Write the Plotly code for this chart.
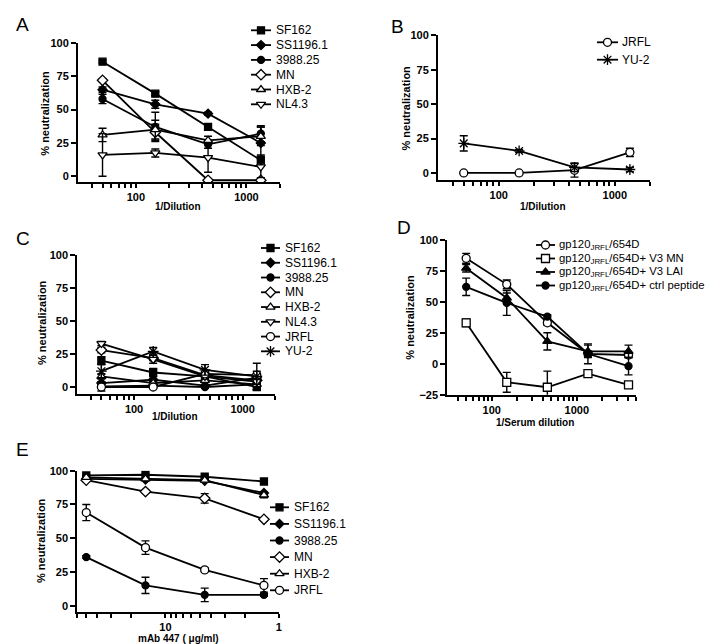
import math
import plotly.graph_objects as go

W, H = 715, 644
FONT = "Liberation Sans, Arial, sans-serif"

# ---------------- data ----------------
dil4 = [50, 150, 450, 1350]
dil5 = [50, 150, 450, 1350, 4050]
conc_447 = [50, 15, 4.5, 1.35]

# Panel A
a_names = ["SF162", "SS1196.1", "3988.25", "MN", "HXB-2", "NL4.3"]
a_sf162 = [86, 62, 37, 12];      a_sf162_err = [1, 1.5, 1.5, 4]
a_ss1196 = [65, 54, 47, 25];     a_ss1196_err = [2, 3, 1, 12]
a_3988 = [58, 37, 24, 32];       a_3988_err = [3.5, 11, 3, 6]
a_mn = [72, 33, -3, -3];         a_mn_err = [1, 6, 0.5, 0.5]
a_hxb2 = [31, 35, 27, 30];       a_hxb2_err = [5, 7, 3, 7]
a_nl43 = [16, 17.5, 14, 7];      a_nl43_err = [16, 3, 11, 8]

# Panel B
b_names = ["JRFL", "YU-2"]
b_jrfl = [0, 0, 2, 15];          b_jrfl_err = [0.5, 0.5, 5, 3]
b_yu2 = [21.5, 16, 4, 2.5];      b_yu2_err = [5.5, 1, 3, 1.5]

# Panel C
c_names = ["SF162", "SS1196.1", "3988.25", "MN", "HXB-2", "NL4.3", "JRFL", "YU-2"]
c_sf162 = [20, 11, 8, 0];        c_sf162_err = [3, 3, 2, 2]
c_ss1196 = [3, 5.5, 1, 7];       c_ss1196_err = [1, 1, 1, 1]
c_3988 = [0.5, 1, 0, 2];         c_3988_err = [1, 1, 1, 1]
c_mn = [28, 22, 9, 5];           c_mn_err = [2, 2, 2, 2]
c_hxb2 = [8, 3, 5, 2];           c_hxb2_err = [2, 1, 1, 1]
c_nl43 = [33, 21, 8, 4];         c_nl43_err = [1.5, 3, 2, 2]
c_jrfl = [0, 0, 10, 9];          c_jrfl_err = [3, 1, 2, 3]
c_yu2 = [12, 27, 13, 8];         c_yu2_err = [5, 3, 4, 10]

# Panel D
d_names = ["gp120<sub>JRFL</sub>/654D",
           "gp120<sub>JRFL</sub>/654D+ V3 MN",
           "gp120<sub>JRFL</sub>/654D+ V3 LAI",
           "gp120<sub>JRFL</sub>/654D+ ctrl peptide"]
d_654d = [85, 64, 33, 8, 7];         d_654d_err = [4, 3.5, 2, 2, 2]
d_v3mn = [33, -15, -19, -8, -17];    d_v3mn_err = [3, 8, 13, 1.5, 1.5]
d_v3lai = [77, 53, 18, 10, 10];      d_v3lai_err = [3, 4, 7, 5, 5]
d_ctrl = [62, 49, 38, 8, -2];        d_ctrl_err = [7, 10, 1.5, 8, 7]

# Panel E
e_names = ["SF162", "SS1196.1", "3988.25", "MN", "HXB-2", "JRFL"]
e_sf162 = [96.5, 97, 95.5, 92];      e_sf162_err = [0.5, 0.5, 0.5, 0.5]
e_ss1196 = [94, 93.5, 92.5, 83.5];   e_ss1196_err = [0.5, 0.5, 0.5, 1]
e_3988 = [36, 15, 8, 8];             e_3988_err = [1, 6, 5, 1]
e_mn = [93, 84.5, 79.5, 64];         e_mn_err = [1, 1, 3.5, 1]
e_hxb2 = [95, 94, 93, 82];           e_hxb2_err = [1, 1, 1, 2]
e_jrfl = [69, 43, 26.5, 15];         e_jrfl_err = [6, 5, 1.5, 5]

y_ticks = [0, 25, 50, 75, 100]
y_ticks_d = [-25, 0, 25, 50, 75, 100]
x_ticks_dil = [100, 1000]
x_ticks_447 = [10, 1]
x_minor_dil = [40, 50, 60, 70, 80, 90, 200, 300, 400, 500, 600, 700, 800, 900, 2000]
x_minor_d = [40, 50, 60, 70, 80, 90, 200, 300, 400, 500, 600, 700, 800, 900, 2000, 3000, 4000, 5000]
x_minor_447 = [2, 3, 4, 5, 6, 7, 8, 9, 20, 30, 40, 50, 60]

# ---------------- styles ----------------
STY = {
    "SF162": ("square", "black", 7),
    "SS1196.1": ("diamond", "black", 7),
    "3988.25": ("circle", "black", 7),
    "MN": ("diamond", "white", 8),
    "HXB-2": ("triangle-up", "white", 8),
    "NL4.3": ("triangle-down", "white", 8),
    "JRFL": ("circle", "white", 8),
    "YU-2": ("asterisk-open", "black", 9),
    "D0": ("circle", "white", 8),
    "D1": ("square", "white", 8),
    "D2": ("triangle-up", "black", 8),
    "D3": ("circle", "black", 7),
}

fig = go.Figure()


def add_series(ax, x, y, err, key, name):
    sym, fill, size = STY[key]
    fig.add_trace(go.Scatter(
        x=x, y=y, mode="lines+markers", name=name, showlegend=False,
        xaxis="x" + ax, yaxis="y" + ax,
        line=dict(color="black", width=1.8),
        marker=dict(symbol=sym, size=size, color=fill,
                    line=dict(color="black", width=1.3)),
        error_y=dict(type="data", array=err, visible=True, color="black",
                     thickness=1.4, width=4),
    ))


for key, y, e in zip(a_names,
                     [a_sf162, a_ss1196, a_3988, a_mn, a_hxb2, a_nl43],
                     [a_sf162_err, a_ss1196_err, a_3988_err, a_mn_err, a_hxb2_err, a_nl43_err]):
    add_series("", dil4, y, e, key, key)
for key, y, e in zip(b_names, [b_jrfl, b_yu2], [b_jrfl_err, b_yu2_err]):
    add_series("2", dil4, y, e, key, key)
for key, y, e in zip(c_names,
                     [c_sf162, c_ss1196, c_3988, c_mn, c_hxb2, c_nl43, c_jrfl, c_yu2],
                     [c_sf162_err, c_ss1196_err, c_3988_err, c_mn_err, c_hxb2_err,
                      c_nl43_err, c_jrfl_err, c_yu2_err]):
    add_series("3", dil4, y, e, key, key)
for i, (y, e) in enumerate(zip([d_654d, d_v3mn, d_v3lai, d_ctrl],
                               [d_654d_err, d_v3mn_err, d_v3lai_err, d_ctrl_err])):
    add_series("4", dil5, y, e, "D%d" % i, d_names[i])
for key, y, e in zip(e_names,
                     [e_sf162, e_ss1196, e_3988, e_mn, e_hxb2, e_jrfl],
                     [e_sf162_err, e_ss1196_err, e_3988_err, e_mn_err, e_hxb2_err, e_jrfl_err]):
    add_series("5", conc_447, y, e, key, key)


# ---------------- axes ----------------
def px_x(x):
    return x / W


def px_y(y):
    return 1 - y / H


PANELS = {
    "": dict(xd=(70, 271.7), yd=(174, 35), xr=(30, 2000), yr=(-4.3, 100),
             xt=x_ticks_dil, yt=y_ticks, minor=x_minor_dil),
    "2": dict(xd=(430, 641.7), yd=(171.7, 27.3), xr=(30, 2000), yr=(-4.9, 100),
              xt=x_ticks_dil, yt=y_ticks, minor=x_minor_dil),
    "3": dict(xd=(69.3, 267.3), yd=(385.7, 247.3), xr=(30, 2000), yr=(-5.1, 100),
              xt=x_ticks_dil, yt=y_ticks, minor=x_minor_dil),
    "4": dict(xd=(439.3, 628.3), yd=(386.7, 231.7), xr=(30, 5000), yr=(-25, 100),
              xt=x_ticks_dil, yt=y_ticks_d, minor=x_minor_d),
    "5": dict(xd=(69.3, 270.7), yd=(604, 462.7), xr=(60, 1), yr=(-4.7, 100),
              xt=x_ticks_447, yt=y_ticks, minor=x_minor_447),
}

tickfont = dict(family=FONT, size=11, color="black", weight="bold")
layout_axes = {}
for ax, p in PANELS.items():
    allx = list(p["xt"]) + list(p["minor"])
    labels = [str(v) for v in p["xt"]] + [" "] * len(p["minor"])
    layout_axes["xaxis" + ax] = dict(
        type="log", domain=[px_x(p["xd"][0]), px_x(p["xd"][1])],
        range=[math.log10(p["xr"][0]), math.log10(p["xr"][1])],
        anchor="y" + ax, showline=True, linewidth=2, linecolor="black",
        ticks="outside", ticklen=4, tickwidth=1.6, tickcolor="black",
        tickmode="array", tickvals=allx, ticktext=labels, tickangle=0,
        tickfont=tickfont, showgrid=False, zeroline=False, automargin=False,
        fixedrange=True,
    )
    layout_axes["yaxis" + ax] = dict(
        domain=[px_y(p["yd"][0]), px_y(p["yd"][1])], range=list(p["yr"]),
        anchor="x" + ax, showline=True, linewidth=2, linecolor="black",
        ticks="outside", ticklen=5, tickwidth=2, tickcolor="black",
        tickmode="array", tickvals=p["yt"], tickfont=tickfont,
        showgrid=False, zeroline=False, automargin=False, fixedrange=True,
    )

# overlay pixel axes for legend keys
layout_axes["xaxis6"] = dict(domain=[0, 1], range=[0, W], visible=False, fixedrange=True, anchor="y6")
layout_axes["yaxis6"] = dict(domain=[0, 1], range=[H, 0], visible=False, fixedrange=True, anchor="x6")

annotations = []

# legends: (keys, labels, line x0, line x1, text x, first row y, row gap, font size)
LEGENDS = [
    (a_names, a_names, 243, 263, 266, 22.3, 14.8, 12),
    (b_names, b_names, 589, 610, 612, 34.3, 17.4, 12),
    (c_names, c_names, 253, 272, 275, 240, 14.76, 12),
    (["D0", "D1", "D2", "D3"], d_names, 528, 547, 549, 237, 13.5, 11.3),
    (e_names, e_names, 262, 281, 284, 499.3, 16.6, 12),
]
for keys, labels, x0, x1, xt, y0, dy, fs in LEGENDS:
    for i, (k, lab) in enumerate(zip(keys, labels)):
        yy = y0 + i * dy
        sym, fill, size = STY[k]
        fig.add_trace(go.Scatter(x=[x0, x1], y=[yy, yy], mode="lines", xaxis="x6", yaxis="y6",
                                 line=dict(color="black", width=1.8), showlegend=False, hoverinfo="skip"))
        fig.add_trace(go.Scatter(x=[(x0 + x1) / 2], y=[yy], mode="markers", xaxis="x6", yaxis="y6",
                                 marker=dict(symbol=sym, size=size, color=fill,
                                             line=dict(color="black", width=1.3)),
                                 showlegend=False, hoverinfo="skip"))
        annotations.append(dict(x=xt, y=yy, xref="x6", yref="y6", text=lab, showarrow=False,
                                xanchor="left", yanchor="middle",
                                font=dict(family=FONT, size=fs, color="black")))

# panel letters
for letter, cx, cy in [("A", 14.5, 16.5), ("B", 389, 18.5), ("C", 14.5, 230.5),
                       ("D", 396, 219), ("E", 14.5, 441.5)]:
    annotations.append(dict(x=px_x(cx), y=px_y(cy), xref="paper", yref="paper", text=letter,
                            showarrow=False, xanchor="center", yanchor="middle",
                            font=dict(family=FONT, size=19, color="black")))

# axis titles
titlefont_x = dict(family=FONT, size=10, color="black", weight="bold")
titlefont_y = dict(family=FONT, size=11, color="black", weight="bold")
for text, cx, cy in [("1/Dilution", 170, 199), ("1/Dilution", 535, 199), ("1/Dilution", 167, 409),
                     ("1/Serum dilution", 527, 414), ("mAb 447 ( \u03bcg/ml)", 170, 630)]:
    annotations.append(dict(x=px_x(cx), y=px_y(cy), xref="paper", yref="paper", text=text,
                            showarrow=False, xanchor="center", yanchor="middle", font=titlefont_x))
for cx, cy in [(36.7, 105), (397.5, 100), (34, 315), (401.7, 309), (33, 533)]:
    annotations.append(dict(x=px_x(cx), y=px_y(cy), xref="paper", yref="paper",
                            text="% neutralization", textangle=-90,
                            showarrow=False, xanchor="center", yanchor="middle", font=titlefont_y))

fig.update_layout(
    width=W, height=H, autosize=False,
    margin=dict(l=0, r=0, t=0, b=0),
    paper_bgcolor="white", plot_bgcolor="rgba(0,0,0,0)",
    showlegend=False,
    font=dict(family=FONT, color="black"),
    annotations=annotations,
    **layout_axes,
)

fig.write_html("out.html")
